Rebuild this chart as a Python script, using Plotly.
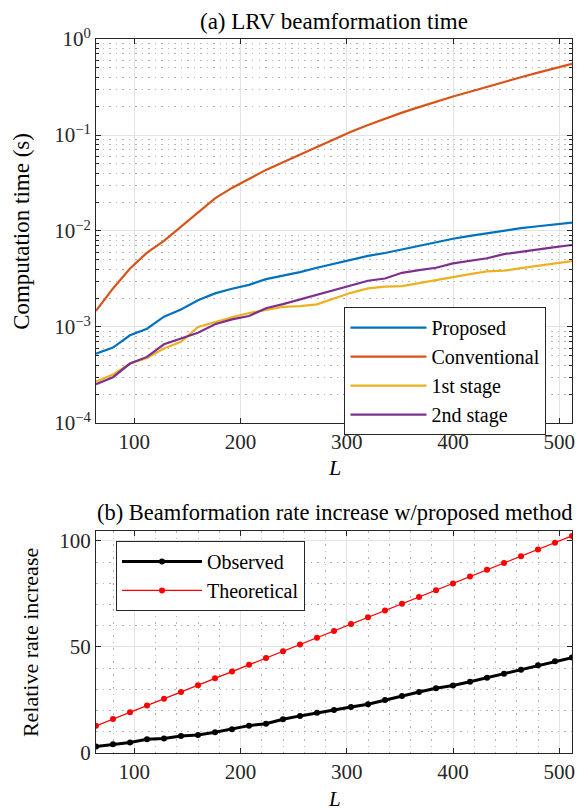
import plotly.graph_objects as go

L = list(range(64, 513, 16))

proposed = [5.28e-4, 6.1e-4, 8.2e-4, 9.6e-4, 1.28e-3, 1.52e-3, 1.9e-3, 2.24e-3, 2.5e-3, 2.75e-3,
            3.15e-3, 3.4e-3, 3.73e-3, 4.14e-3, 4.55e-3, 4.97e-3, 5.5e-3, 5.9e-3, 6.45e-3, 7.0e-3,
            7.7e-3, 8.3e-3, 8.9e-3, 9.5e-3, 1.0e-2, 1.07e-2, 1.12e-2, 1.16e-2, 1.22e-2]
conventional = [1.47e-3, 2.52e-3, 4.07e-3, 5.94e-3, 7.9e-3, 1.11e-2, 1.59e-2, 2.19e-2, 2.81e-2, 3.52e-2,
                4.33e-2, 5.2e-2, 6.25e-2, 7.5e-2, 9.1e-2, 0.108, 0.127, 0.148, 0.171, 0.195,
                0.222, 0.252, 0.282, 0.318, 0.356, 0.40, 0.446, 0.494, 0.55]
stage1 = [2.7e-4, 3.19e-4, 4.16e-4, 4.76e-4, 5.96e-4, 7.0e-4, 1.0e-3, 1.13e-3, 1.26e-3, 1.4e-3,
          1.52e-3, 1.62e-3, 1.65e-3, 1.72e-3, 1.98e-3, 2.27e-3, 2.52e-3, 2.63e-3, 2.67e-3, 2.88e-3,
          3.08e-3, 3.34e-3, 3.56e-3, 3.8e-3, 3.86e-3, 4.1e-3, 4.35e-3, 4.6e-3, 4.86e-3]
stage2 = [2.53e-4, 3.0e-4, 4.16e-4, 4.88e-4, 6.6e-4, 7.58e-4, 8.7e-4, 1.07e-3, 1.2e-3, 1.3e-3,
          1.57e-3, 1.73e-3, 1.94e-3, 2.16e-3, 2.44e-3, 2.73e-3, 3.03e-3, 3.2e-3, 3.67e-3, 3.92e-3,
          4.14e-3, 4.6e-3, 4.9e-3, 5.2e-3, 5.75e-3, 6.1e-3, 6.45e-3, 6.8e-3, 7.15e-3]

observed = [3.1, 4.1, 5.0, 6.5, 6.8, 8.0, 8.5, 9.8, 11.2, 12.9, 13.8, 15.9, 17.5, 19.0, 20.3,
            21.7, 23.0, 25.0, 26.9, 28.8, 30.5, 31.8, 33.6, 35.5, 37.4, 39.3, 41.4, 43.3, 45.0]
theoretical = [12.8, 16.0, 19.2, 22.4, 25.6, 28.8, 32.0, 35.2, 38.4, 41.6, 44.8, 48.0, 51.2, 54.4, 57.6,
               60.8, 64.0, 67.2, 70.4, 73.6, 76.8, 80.0, 83.2, 86.4, 89.6, 92.8, 96.0, 99.2, 102.4]

log_tickvals = [1e-4, 1e-3, 1e-2, 1e-1, 1]
log_ticktext = ["10<sup>−4</sup>", "10<sup>−3</sup>", "10<sup>−2</sup>", "10<sup>−1</sup>", "10<sup>0</sup>"]
x_tickvals = [100, 200, 300, 400, 500]

FONT = "Liberation Serif"
AX = "#262626"
GRID = "#e3e3e3"
MINOR = "#b4b4b4"
DOT = "1.5px,5px"

fig = go.Figure()
colors = ["#0072BD", "#D95319", "#EDB120", "#7E2F8E"]
names = ["Proposed", "Conventional", "1st stage", "2nd stage"]
for ys, c, n in zip([proposed, conventional, stage1, stage2], colors, names):
    fig.add_trace(go.Scatter(x=L, y=ys, mode="lines", name=n, line=dict(color=c, width=2.2),
                             xaxis="x", yaxis="y", legend="legend"))

fig.add_trace(go.Scatter(x=L, y=observed, mode="lines+markers", name="Observed",
                         line=dict(color="black", width=3), marker=dict(color="black", size=6),
                         xaxis="x2", yaxis="y2", legend="legend2"))
fig.add_trace(go.Scatter(x=L, y=theoretical, mode="lines+markers", name="Theoretical",
                         line=dict(color="red", width=1.2), marker=dict(color="red", size=6),
                         xaxis="x2", yaxis="y2", legend="legend2"))

top_dom = [0.4622, 1.0]
bot_dom = [0.0, 0.3109]

def xaxis_cfg(minor_grid):
    return dict(range=[64, 512], tickvals=x_tickvals, ticks="inside", ticklen=5, tickcolor=AX,
                showline=True, linecolor=AX, linewidth=1, mirror="ticks", showgrid=True,
                gridcolor=GRID, gridwidth=1, zeroline=False,
                tickfont=dict(family=FONT, size=21, color=AX),
                minor=dict(dtick=20, tick0=0, showgrid=minor_grid, gridcolor=MINOR, griddash=DOT,
                           gridwidth=1, ticks=""))

fig.update_layout(
    width=586, height=812,
    paper_bgcolor="white", plot_bgcolor="white",
    margin=dict(l=96, r=11, t=39, b=59),
    font=dict(family=FONT, size=21, color=AX),
    xaxis=dict(domain=[0, 1], anchor="y", **xaxis_cfg(False)),
    yaxis=dict(domain=top_dom, anchor="x", type="log", range=[-4, 0], tickvals=log_tickvals,
               ticktext=log_ticktext, ticks="inside", ticklen=5, tickcolor=AX, showline=True,
               linecolor=AX, linewidth=1, mirror="ticks", showgrid=True, gridcolor=GRID,
               zeroline=False, tickfont=dict(family=FONT, size=21, color=AX),
               minor=dict(dtick="D1", showgrid=True, gridcolor=MINOR, griddash=DOT,
                          ticks="inside", ticklen=3, tickcolor=AX)),
    xaxis2=dict(domain=[0, 1], anchor="y2", **xaxis_cfg(True)),
    yaxis2=dict(domain=bot_dom, anchor="x2", range=[0, 104.7], tickvals=[0, 50, 100],
                ticks="inside", ticklen=5, tickcolor=AX, showline=True, linecolor=AX, linewidth=1,
                mirror="ticks", showgrid=True, gridcolor=GRID, zeroline=False,
                tickfont=dict(family=FONT, size=21, color=AX),
                minor=dict(dtick=10, showgrid=True, gridcolor=MINOR, griddash=DOT, ticks="")),
    legend=dict(x=0.522, y=0.6246, xanchor="left", yanchor="top", bgcolor="white",
                bordercolor=AX, borderwidth=1, font=dict(family=FONT, size=20, color="black"),
                itemwidth=76, tracegroupgap=0),
    legend2=dict(x=0.042, y=0.297, xanchor="left", yanchor="top", bgcolor="white",
                 bordercolor=AX, borderwidth=1, font=dict(family=FONT, size=20, color="black"),
                 itemwidth=80),
    showlegend=True,
)

annots = [
    dict(text="(a) LRV beamformation time", x=0.5, y=1.025, xanchor="center", yanchor="middle",
         font=dict(size=23)),
    dict(text="(b) Beamformation rate increase w/proposed method", x=0.5, y=0.3375,
         xanchor="center", yanchor="middle", font=dict(size=22.5)),
    dict(text="Computation time (s)", x=-0.158, y=0.731, textangle=-90, xanchor="center",
         yanchor="middle", font=dict(size=23)),
    dict(text="Relative rate increase", x=-0.137, y=0.155, textangle=-90, xanchor="center",
         yanchor="middle", font=dict(size=22)),
    dict(text="<i>L</i>", x=0.5, y=(753 - 467) / 714, xanchor="center", yanchor="middle",
         font=dict(size=22)),
    dict(text="<i>L</i>", x=0.5, y=(753 - 799) / 714, xanchor="center", yanchor="middle",
         font=dict(size=21)),
]
for a in annots:
    a.update(xref="paper", yref="paper", showarrow=False)
    a["font"] = dict(family=FONT, color="black", **a["font"])
fig.update_layout(annotations=annots)

fig.write_html("out.html", config={"displayModeBar": False},
               post_script="document.body.style.margin='0';")
